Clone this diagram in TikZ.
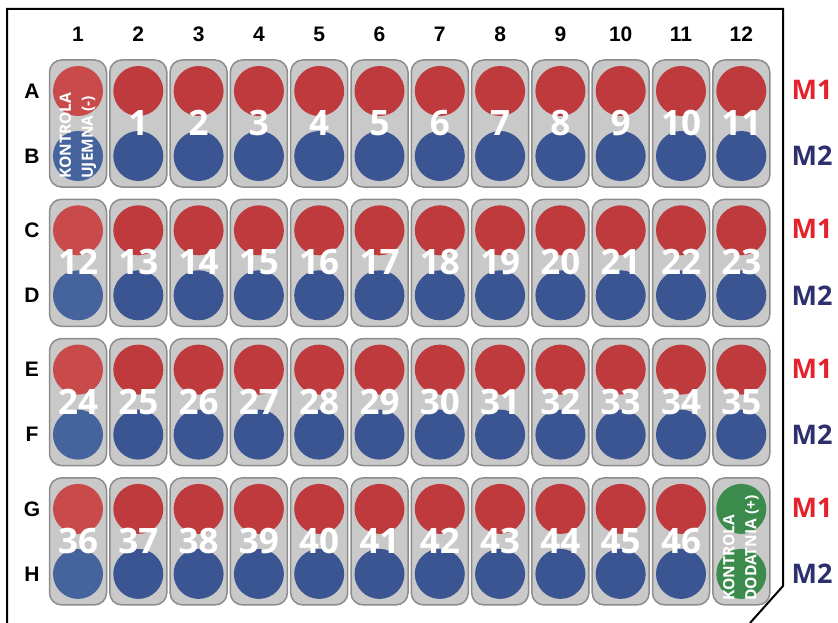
\documentclass[tikz,border=0pt]{standalone}
\usepackage{fontspec}
\setmainfont{Open Sans}
\newfontfamily\hdr{Liberation Sans}
\definecolor{wellred}{HTML}{BE3A3C}
\definecolor{wellblue}{HTML}{3A5591}
\definecolor{wellredl}{HTML}{C84A4B}
\definecolor{wellbluel}{HTML}{45639C}
\definecolor{wellgreen}{HTML}{3B8C4C}
\definecolor{stripfill}{HTML}{C9C9C9}
\definecolor{stripdraw}{HTML}{8C8C8C}
\definecolor{mred}{HTML}{E3222B}
\definecolor{mblue}{HTML}{2D2F6E}
\tikzset{
 stripbox/.style={shape=rectangle, draw=stripdraw, fill=stripfill, line width=1.5pt, rounded corners=12pt, minimum width=57pt, minimum height=127pt, inner sep=0pt},
 well/.style={circle, minimum size=50pt, inner sep=0pt, fill=#1},
 wellnum/.style={text=white, font=\bfseries\fontsize{35}{35}\selectfont, inner sep=0pt},
 hdrlabel/.style={font=\hdr\bfseries\fontsize{21}{21}\selectfont, inner sep=0pt},
 mlabel/.style={font=\bfseries\fontsize{27}{27}\selectfont, text=#1, inner sep=0pt},
 ctrl/.style={rotate=90, anchor=west, text=white, align=left, font=\bfseries\fontsize{15.5}{22}\selectfont, inner sep=0pt},
 plate/.style={line width=2pt, draw=black}
}
\begin{document}
\begin{tikzpicture}[x=1pt,y=-1pt]
\useasboundingbox (0,0) rectangle (838,623);
\draw[plate] (7,623) -- (7,9) -- (783,9) -- (783,586) -- (750,623);
\foreach \c in {1,...,12}{
  \pgfmathsetmacro\xc{78+60.3*(\c-1)}
  \node[hdrlabel] (h\c) at (\xc,34) {\c};
}
\foreach \g in {0,...,3}{
 \foreach \c in {1,...,12}{
  \pgfmathsetmacro\xc{78+60.3*(\c-1)}
  \pgfmathsetmacro\tp{60+139.3*\g}
  \pgfmathtruncatemacro\n{12*\g+\c-1}
  \node[stripbox] (s-\g-\c) at (\xc,\tp+63.5) {};
  \ifnum\c=1 \def\rc{wellredl}\def\bc{wellbluel}\else\def\rc{wellred}\def\bc{wellblue}\fi
  \ifnum\g=3 \ifnum\c=12 \def\rc{wellgreen}\def\bc{wellgreen}\fi\fi
  \node[well=\rc] (r-\g-\c) at (\xc,\tp+31) {};
  \node[well=\bc] (b-\g-\c) at (\xc,\tp+96) {};
  \ifnum\n>0 \ifnum\n<47 \node[wellnum] (n-\n) at (\xc,\tp+63) {\n}; \fi\fi
 }
}
\node[ctrl] (neg) at (78,179) {KONTROLA\\UJEMNA (-)};
\node[ctrl] (pos) at (741,601) {KONTROLA\\DODATNIA (+)};
\foreach \g in {0,...,3}{
  \pgfmathsetmacro\tp{60+139.3*\g}
  \node[mlabel=mred] (m1-\g) at (812,\tp+30) {M1};
  \node[mlabel=mblue] (m2-\g) at (812,\tp+96) {M2};
}
\foreach \r/\g/\o in {A/0/31,B/0/96,C/1/31,D/1/96,E/2/31,F/2/96,G/3/31,H/3/96}{
  \pgfmathsetmacro\yy{60+139.3*\g+\o}
  \node[hdrlabel] (row\r) at (32,\yy) {\r};
}
\end{tikzpicture}
\end{document}
